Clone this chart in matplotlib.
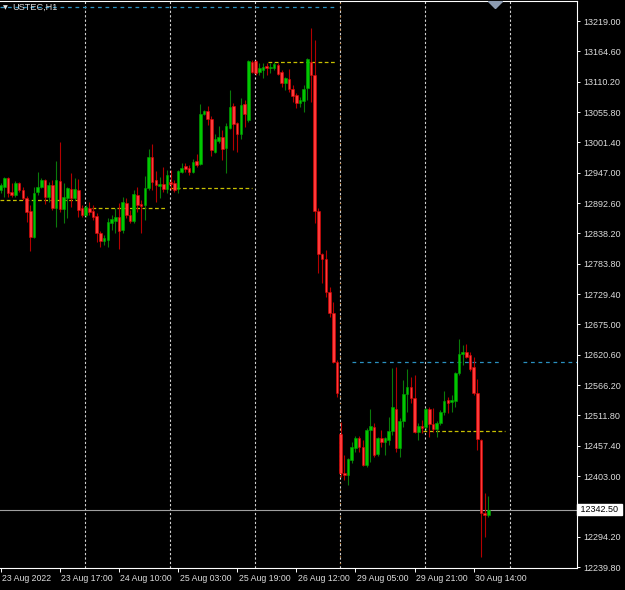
import matplotlib
matplotlib.use("Agg")
import matplotlib.pyplot as plt
import matplotlib.transforms as mtransforms
import numpy as np

plt.rcParams['font.family'] = ['Liberation Sans', 'DejaVu Sans']

# USTEC H1, bars from 23 Aug 2022 01:00 to 30 Aug 18:00
opens = [12916.0, 12921.3, 12937.5, 12912.4, 12907.0, 12928.5, 12916.0, 12901.6, 12878.3, 12831.7,
         12912.4, 12921.3, 12933.9, 12903.4, 12924.9, 12883.7, 12932.1, 12881.9, 12901.6, 12917.7,
         12901.6, 12916.0, 12883.7, 12871.1, 12883.7, 12878.3, 12869.3, 12838.8, 12824.5, 12826.3,
         12856.8, 12860.4, 12867.5, 12844.2, 12892.6, 12871.1, 12860.4, 12907.0, 12890.8, 12889.1,
         12919.5, 12975.1, 12933.9, 12923.1, 12926.7, 12917.7, 12930.3, 12928.5, 12917.7, 12948.2,
         12959.0, 12955.4, 12948.2, 12968.0, 12962.6, 13052.3, 13057.6, 13043.3, 12984.1, 13003.8,
         13011.0, 12991.3, 13027.1, 13066.6, 13036.1, 13016.4, 13070.2, 13041.5, 13145.5, 13147.3,
         13127.6, 13131.2, 13138.3, 13134.7, 13134.7, 13140.1, 13127.6, 13107.8, 13115.0, 13097.1,
         13086.3, 13072.0, 13075.6, 13098.9, 13145.5, 13122.2, 12878.3, 12801.2, 12792.2, 12733.0,
         12695.4, 12607.5, 12478.4, 12408.4, 12404.8, 12431.7, 12453.3, 12471.2, 12455.1, 12422.8,
         12485.5, 12490.9, 12442.5, 12471.2, 12464.0, 12467.6, 12483.7, 12523.2, 12453.3, 12501.7,
         12550.1, 12562.7, 12542.9, 12482.0, 12492.7, 12490.9, 12523.2, 12496.3, 12487.3, 12498.1,
         12517.8, 12539.3, 12535.8, 12537.5, 12587.8, 12621.8, 12625.4, 12620.0, 12598.5, 12551.9,
         12467.6, 12336.7, 12333.1]
highs = [12928.5, 12939.3, 12939.3, 12928.5, 12932.1, 12930.3, 12921.3, 12905.2, 12889.1, 12921.3,
         12948.2, 12937.5, 12935.7, 12930.3, 12933.9, 12968.0, 13002.0, 12928.5, 12921.3, 12946.4,
         12937.5, 12935.7, 12889.1, 12889.1, 12894.4, 12889.1, 12874.7, 12842.4, 12835.3, 12865.7,
         12871.1, 12883.7, 12892.6, 12903.4, 12901.6, 12880.1, 12916.0, 12921.3, 12898.0, 12941.1,
         12989.5, 12998.5, 12950.0, 12939.3, 12957.2, 12951.8, 12951.8, 12933.9, 12951.8, 12964.4,
         12964.4, 12960.8, 12971.6, 12980.5, 13070.2, 13059.4, 13066.6, 13048.7, 13016.4, 13030.7,
         13023.6, 13036.1, 13095.3, 13072.0, 13037.9, 13080.9, 13077.4, 13149.1, 13149.1, 13149.1,
         13143.7, 13143.7, 13143.7, 13143.7, 13145.5, 13143.7, 13131.2, 13118.6, 13133.0, 13104.3,
         13089.9, 13082.7, 13104.3, 13152.7, 13206.5, 13185.0, 12883.7, 12803.0, 12808.3, 12742.0,
         12715.1, 12611.1, 12499.9, 12440.7, 12435.3, 12464.0, 12474.8, 12474.8, 12467.6, 12489.1,
         12523.2, 12498.1, 12473.0, 12485.5, 12473.0, 12508.9, 12596.7, 12598.5, 12507.1, 12575.2,
         12594.9, 12580.6, 12584.2, 12498.1, 12503.5, 12525.0, 12526.8, 12525.0, 12501.7, 12521.4,
         12555.5, 12544.7, 12548.3, 12589.6, 12648.7, 12638.0, 12639.8, 12625.4, 12616.5, 12577.0,
         12469.4, 12372.6, 12367.2]
lows = [12910.6, 12903.4, 12903.4, 12903.4, 12903.4, 12912.4, 12898.0, 12858.6, 12806.6, 12829.9,
        12907.0, 12919.5, 12890.8, 12894.4, 12880.1, 12849.6, 12876.5, 12856.8, 12865.7, 12885.5,
        12898.0, 12867.5, 12867.5, 12867.5, 12871.1, 12862.2, 12822.7, 12813.7, 12817.3, 12813.7,
        12844.2, 12838.8, 12810.1, 12838.8, 12865.7, 12856.8, 12856.8, 12876.5, 12838.8, 12862.2,
        12916.0, 12916.0, 12894.4, 12901.6, 12912.4, 12910.6, 12916.0, 12912.4, 12910.6, 12946.4,
        12948.2, 12942.9, 12946.4, 12957.2, 12960.8, 13050.5, 13032.5, 12976.9, 12982.3, 13000.2,
        12969.8, 12946.4, 13025.4, 12987.7, 12984.1, 13007.4, 13028.9, 13037.9, 13125.8, 13122.2,
        13122.2, 13116.8, 13122.2, 13125.8, 13131.2, 13122.2, 13100.7, 13095.3, 13091.7, 13073.8,
        13063.0, 13064.8, 13055.8, 13077.4, 13073.8, 12856.8, 12767.1, 12749.2, 12724.1, 12688.2,
        12605.7, 12544.7, 12401.2, 12395.9, 12386.9, 12426.4, 12446.1, 12446.1, 12421.0, 12419.2,
        12428.2, 12437.1, 12438.9, 12455.1, 12440.7, 12458.6, 12476.6, 12446.1, 12437.1, 12490.9,
        12517.8, 12534.0, 12480.2, 12467.6, 12480.2, 12485.5, 12473.0, 12482.0, 12473.0, 12494.5,
        12512.4, 12516.0, 12517.8, 12526.8, 12584.2, 12602.1, 12614.7, 12591.4, 12548.3, 12449.7,
        12257.8, 12293.6, 12329.5]
closes = [12924.9, 12937.5, 12910.6, 12907.0, 12928.5, 12916.0, 12901.6, 12876.5, 12831.7, 12910.6,
          12921.3, 12933.9, 12903.4, 12924.9, 12883.7, 12933.9, 12881.9, 12903.4, 12919.5, 12901.6,
          12917.7, 12880.1, 12871.1, 12885.5, 12876.5, 12867.5, 12838.8, 12824.5, 12829.9, 12858.6,
          12863.9, 12867.5, 12842.4, 12894.4, 12871.1, 12860.4, 12908.8, 12889.1, 12887.3, 12919.5,
          12975.1, 12930.3, 12924.9, 12926.7, 12917.7, 12942.9, 12926.7, 12916.0, 12950.0, 12955.4,
          12953.6, 12948.2, 12966.2, 12960.8, 13052.3, 13057.6, 13043.3, 12987.7, 13007.4, 13011.0,
          12989.5, 13030.7, 13064.8, 13034.3, 13016.4, 13068.4, 13052.3, 13147.3, 13127.6, 13125.8,
          13134.7, 13136.5, 13134.7, 13136.5, 13141.9, 13124.0, 13107.8, 13116.8, 13097.1, 13084.5,
          13072.0, 13077.4, 13097.1, 13150.9, 13122.2, 12878.3, 12801.2, 12792.2, 12733.0, 12695.4,
          12607.5, 12551.9, 12408.4, 12404.8, 12433.5, 12455.1, 12471.2, 12455.1, 12422.8, 12485.5,
          12492.7, 12440.7, 12471.2, 12464.0, 12471.2, 12483.7, 12526.8, 12453.3, 12501.7, 12550.1,
          12562.7, 12542.9, 12482.0, 12492.7, 12489.1, 12523.2, 12496.3, 12487.3, 12498.1, 12517.8,
          12537.5, 12534.0, 12539.3, 12587.8, 12621.8, 12625.4, 12616.5, 12594.9, 12551.9, 12469.4,
          12336.7, 12333.1, 12342.5]

time_tick_bars = [0, 16, 32, 48, 64, 80, 96, 112, 128]
time_tick_labels = ["23 Aug 2022", "23 Aug 17:00", "24 Aug 10:00", "25 Aug 03:00", "25 Aug 19:00",
                    "26 Aug 12:00", "29 Aug 05:00", "29 Aug 21:00", "30 Aug 14:00"]
price_ticks = [13219.00, 13164.60, 13110.20, 13055.80, 13001.40, 12947.00, 12892.60, 12838.20,
               12783.80, 12729.40, 12675.00, 12620.60, 12566.20, 12511.80, 12457.40, 12403.00,
               12348.60, 12294.20, 12239.80]
day_start_bars = [23, 46, 69, 92, 115, 138]

# (first bar, last bar, price)
yellow_levels = [(-0.2, 21.5, 12898.0), (24.7, 45.0, 12883.7), (45.8, 68.0, 12919.5),
                 (72.3, 90.5, 13145.5), (114.3, 136.5, 12484.3)]
blue_levels = [(-0.2, 90.5, 13245.0), (95.0, 135.7, 12607.5), (141.4, 156.0, 12607.5)]
last_price = 12342.5

fig = plt.figure(figsize=(6.25, 5.9), dpi=100, facecolor="black")
ax = fig.add_axes([0, 22 / 590, 577 / 625, 567 / 590])
ax.set_facecolor("black")

o = np.array(opens)
h = np.array(highs)
l = np.array(lows)
c = np.array(closes)
x = np.arange(len(o))
up = c >= o

# wicks
ax.vlines(x[up], l[up], h[up], color="#0a7a0a", lw=0.8, zorder=3)
ax.vlines(x[~up], l[~up], h[~up], color="#b40000", lw=0.8, zorder=3)
# bodies
bottom = np.minimum(o, c)
height = np.maximum(np.abs(c - o), 1.8)
ax.bar(x[up], height[up], bottom=bottom[up], width=0.7, color="#00c800",
       edgecolor="#00a000", lw=0.4, zorder=4)
ax.bar(x[~up], height[~up], bottom=bottom[~up], width=0.7, color="#ff3a3a",
       edgecolor="#e00000", lw=0.4, zorder=4)

# day separators
for i, d in enumerate(day_start_bars):
    ax.axvline(d - 0.3, color="#d4d4d4", lw=0.8, ls=(0, (2, 2)), zorder=1)
    if i == 3:
        ax.axvline(d - 0.3, color="#c07a30", lw=0.8, ls=(2, (1, 5)), zorder=1)

for x0, x1, lev in yellow_levels:
    ax.hlines(lev, x0, x1, color="#c8c000", lw=0.9, ls=(0, (3, 2)), zorder=2)
for x0, x1, lev in blue_levels:
    ax.hlines(lev, x0, x1, color="#2a90c0", lw=0.9, ls=(0, (3, 3)), zorder=2)

ax.axhline(last_price, color="#a0a0a0", lw=0.8, zorder=2)

ax.set_xlim(-0.19, 155.96)
ax.set_ylim(12238.05, 13254.9)

# chart shift marker
ax.plot([0.858], [1.0], marker="D", ms=7, color="#8c9bb0", transform=ax.transAxes,
        clip_on=True, zorder=5)

for s in ["top", "right", "bottom"]:
    ax.spines[s].set_color("white")
    ax.spines[s].set_linewidth(0.8)
ax.spines["left"].set_visible(False)

ax.yaxis.tick_right()
ax.set_yticks(price_ticks, ["" if abs(p - last_price) < 10 else f"{p:.2f}" for p in price_ticks])
ax.tick_params(axis="y", direction="out", length=1.8, width=0.7, color="white",
               labelsize=6.5, labelcolor="#dcdcdc", pad=2.4)
ax.set_xticks(time_tick_bars, time_tick_labels)
ax.tick_params(axis="x", direction="out", length=2.8, width=0.7, color="white",
               labelsize=6.3, labelcolor="#dcdcdc", pad=1.2)
shift = mtransforms.ScaledTranslation(1.5 / 100, 0, fig.dpi_scale_trans)
for lbl in ax.get_xticklabels():
    lbl.set_ha("left")
    lbl.set_transform(lbl.get_transform() + shift)

# last price box
ax.text(1.002, last_price, " 12342.50 ", transform=ax.get_yaxis_transform(),
        ha="left", va="center", fontsize=6.5, color="black", zorder=10,
        bbox=dict(boxstyle="square,pad=0.12", facecolor="white", edgecolor="white"))

# symbol caption
ax.text(0.005, 0.993, "\u25bc", transform=ax.transAxes, ha="left", va="top",
        fontsize=4.5, color="#e0e0e0", family="DejaVu Sans", zorder=10)
ax.text(0.022, 0.996, "USTEC,H1", transform=ax.transAxes, ha="left", va="top",
        fontsize=6.6, color="#dcdcdc", zorder=10)

fig.savefig("out.png", dpi=100, facecolor="black")
